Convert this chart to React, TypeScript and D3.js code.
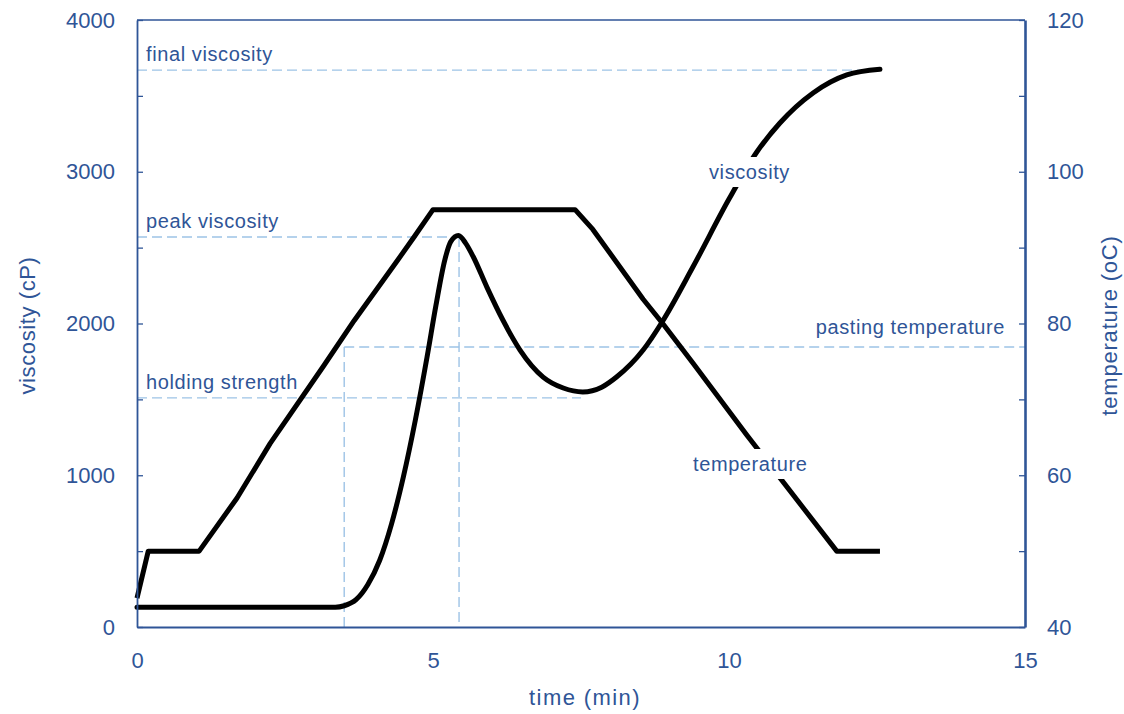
import { useEffect, useRef } from "react";
import * as d3 from "d3";

// temperature profile (min, °C)
const tempTime = [0, 0.19, 1.05, 1.69, 2.25, 3.16, 3.67, 4.39, 4.68, 5.0, 7.4, 7.7, 8.55, 8.89, 9.39, 10.3, 11.82, 12.55];
const tempValue = [43.8, 50, 50, 57.0, 64.2, 74.5, 80.4, 88.2, 91.4, 95, 95, 92.4, 83.2, 79.9, 74.8, 65.3, 50, 50];

// viscosity curve (min, cP)
const viscTime = [0, 1, 2, 3, 3.35, 3.5, 3.7, 3.9, 4.1, 4.3, 4.5, 4.7, 4.9, 5.05, 5.2, 5.3, 5.43, 5.55, 5.68, 5.91, 6.18, 6.47, 6.86, 7.2, 7.53, 7.85, 8.1, 8.55, 8.87, 9.39, 10.0, 10.47, 10.86, 11.42, 11.99, 12.55];
const viscValue = [130, 130, 130, 130, 130, 140, 180, 280, 440, 680, 990, 1360, 1780, 2120, 2420, 2540, 2580, 2530, 2440, 2240, 2023, 1825, 1647, 1575, 1549, 1580, 1647, 1825, 2010, 2372, 2820, 3130, 3321, 3519, 3638, 3675];

// reference markers
const finalViscosity = 3670;
const finalTime = 12.5;
const peakViscosity = 2570;
const peakTime = 5.44;
const holdingStrength = 1510;
const holdingTime = 7.5;
const pastingTemp = 76.9;
const pastingTime = 3.5;

const xTicks = [0, 5, 10, 15];
const yTicks = [0, 500, 1000, 1500, 2000, 2500, 3000, 3500, 4000];
const tTicks = [40, 50, 60, 70, 80, 90, 100, 110, 120];

const W = 1124;
const H = 714;
const margin = { top: 20, right: 99, bottom: 87, left: 137 };
const BLUE = "#2f5597";
const DASH = "#9dc3e6";
const FONT = "'Liberation Sans', Arial, sans-serif";

export default function App() {
  const svgRef = useRef<SVGSVGElement>(null);

  useEffect(() => {
    const svg = d3.select(svgRef.current!);
    svg.selectAll("*").remove();

    const innerW = W - margin.left - margin.right;
    const innerH = H - margin.top - margin.bottom;
    const x = d3.scaleLinear().domain([0, 15]).range([margin.left, margin.left + innerW]);
    const y = d3.scaleLinear().domain([0, 4000]).range([margin.top + innerH, margin.top]);
    const yT = d3.scaleLinear().domain([40, 120]).range([margin.top + innerH, margin.top]);

    // ── dashed reference lines ──
    const ref = svg.append("g").attr("stroke", DASH).attr("stroke-width", 1.4).attr("stroke-dasharray", "10,5").attr("fill", "none");
    const seg = (x1: number, y1: number, x2: number, y2: number) =>
      ref.append("line").attr("x1", x1).attr("y1", y1).attr("x2", x2).attr("y2", y2);
    seg(x(0), y(finalViscosity), x(finalTime), y(finalViscosity));
    seg(x(0), y(peakViscosity), x(peakTime), y(peakViscosity));
    seg(x(peakTime), y(peakViscosity), x(peakTime), y(0));
    seg(x(0), y(holdingStrength), x(holdingTime), y(holdingStrength));
    seg(x(pastingTime), yT(pastingTemp), x(15), yT(pastingTemp));
    seg(x(pastingTime), yT(pastingTemp), x(pastingTime), y(0));

    // ── curves ──
    const tempLine = d3.line<number>().x((d) => x(tempTime[d])).y((d) => yT(tempValue[d]));
    const viscLine = d3.line<number>().x((d) => x(viscTime[d])).y((d) => y(viscValue[d])).curve(d3.curveMonotoneX);
    svg.append("path").attr("d", tempLine(d3.range(tempTime.length))!)
      .attr("fill", "none").attr("stroke", "#000").attr("stroke-width", 5).attr("stroke-linejoin", "round");
    svg.append("path").attr("d", viscLine(d3.range(viscTime.length))!)
      .attr("fill", "none").attr("stroke", "#000").attr("stroke-width", 5).attr("stroke-linecap", "round");

    // ── annotation labels ──
    const label = (tx: number, ty: number, text: string, anchor = "start", boxed = false) => {
      const g = svg.append("g");
      const t = g.append("text").attr("x", tx).attr("y", ty).attr("text-anchor", anchor)
        .attr("font-family", FONT).attr("font-size", 20).attr("letter-spacing", 0.6).attr("fill", BLUE).text(text);
      if (boxed) {
        const b = (t.node() as SVGTextElement).getBBox();
        g.insert("rect", "text").attr("x", b.x - 6).attr("y", b.y - 4).attr("width", b.width + 12).attr("height", b.height + 8).attr("fill", "#fff");
      }
    };
    label(146, 61, "final viscosity");
    label(146, 228, "peak viscosity");
    label(146, 389, "holding strength");
    label(1005, 334, "pasting temperature", "end");
    label(709, 179, "viscosity", "start", true);
    label(693, 471, "temperature", "start", true);

    // ── frame ──
    svg.append("line").attr("x1", x(0)).attr("x2", x(15)).attr("y1", y(4000)).attr("y2", y(4000))
      .attr("stroke", BLUE).attr("stroke-width", 1.6);

    // ── axes ──
    const styleAxis = (g: d3.Selection<SVGGElement, unknown, null, undefined>, w: number) => {
      g.select(".domain").attr("stroke", BLUE).attr("stroke-width", w);
      g.selectAll(".tick line").attr("stroke", BLUE).attr("stroke-width", 1.3);
      g.selectAll("text").attr("fill", BLUE).attr("font-family", FONT).attr("font-size", 22);
    };

    const left = svg.append("g").attr("transform", `translate(${x(0)},0)`)
      .call(d3.axisLeft(y).tickValues(yTicks).tickSize(-6).tickSizeOuter(0).tickPadding(22)
        .tickFormat((d) => ((d as number) % 1000 === 0 ? String(d) : "")));
    styleAxis(left, 1.8);

    const right = svg.append("g").attr("transform", `translate(${x(15)},0)`)
      .call(d3.axisRight(yT).tickValues(tTicks).tickSize(-6).tickSizeOuter(0).tickPadding(22)
        .tickFormat((d) => ((d as number) % 20 === 0 ? String(d) : "")));
    styleAxis(right, 2.6);

    const bottom = svg.append("g").attr("transform", `translate(0,${y(0)})`)
      .call(d3.axisBottom(x).tickValues(xTicks).tickSize(0).tickSizeOuter(0).tickPadding(25).tickFormat(d3.format("d")));
    styleAxis(bottom, 2);

    // ── axis titles ──
    const midY = (y(0) + y(4000)) / 2;
    svg.append("text").attr("x", 585).attr("y", 705).attr("text-anchor", "middle")
      .attr("font-family", FONT).attr("font-size", 22).attr("letter-spacing", 1.4).attr("fill", BLUE).text("time (min)");
    svg.append("text").attr("transform", `translate(35,${midY + 2}) rotate(-90)`).attr("text-anchor", "middle")
      .attr("font-family", FONT).attr("font-size", 22).attr("letter-spacing", 0.6).attr("fill", BLUE).text("viscosity (cP)");
    svg.append("text").attr("transform", `translate(1117,${midY + 2}) rotate(-90)`).attr("text-anchor", "middle")
      .attr("font-family", FONT).attr("font-size", 22).attr("letter-spacing", 0.8).attr("fill", BLUE).text("temperature (oC)");
  }, []);

  return (
    <svg ref={svgRef} width={W} height={H}
      style={{ position: "fixed", left: 0, top: 0, background: "#fff" }} />
  );
}
